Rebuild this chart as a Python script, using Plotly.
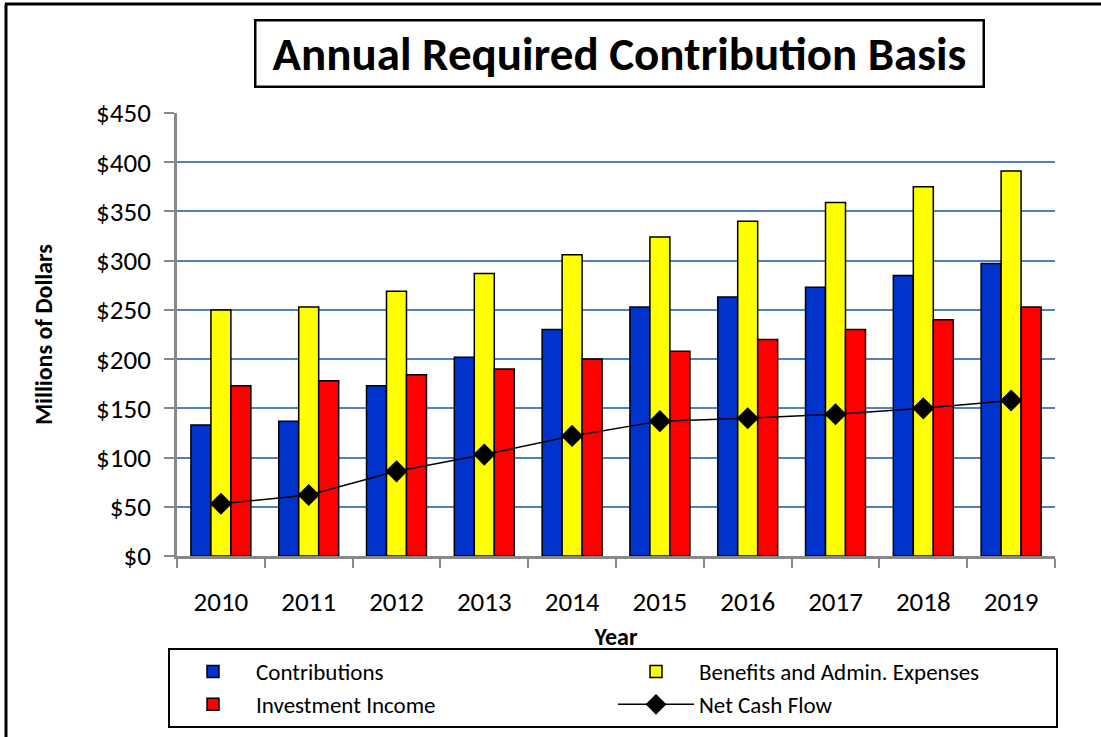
import plotly.graph_objects as go

years = ["2010", "2011", "2012", "2013", "2014", "2015", "2016", "2017", "2018", "2019"]
contributions = [133, 137, 173, 202, 230, 253, 263, 273, 285, 297]
benefits = [250, 253, 269, 287, 306, 324, 340, 359, 375, 391]
investment = [173, 178, 184, 190, 200, 208, 220, 230, 240, 253]
net_cash_flow = [53, 62, 86, 103, 122, 137, 140, 144, 150, 158]
y_ticks = [0, 50, 100, 150, 200, 250, 300, 350, 400, 450]
y_tick_labels = ["$" + str(v) for v in y_ticks]

FONT = "Carlito, Calibri, 'Liberation Sans Narrow', 'Open Sans', sans-serif"
W, H = 1101, 737
ML, MR, MT, MB = 177, 46, 113, 181
PW, PH = W - ML - MR, H - MT - MB

def px(x):
    return (x - ML) / PW

def py(y):
    return (H - MB - y) / PH

fig = go.Figure()
edge = dict(color="black", width=1.5)
fig.add_trace(go.Bar(x=years, y=contributions, name="Contributions",
                     marker=dict(color="#0033CC", line=edge)))
fig.add_trace(go.Bar(x=years, y=benefits, name="Benefits and Admin. Expenses",
                     marker=dict(color="#FFFF00", line=edge)))
fig.add_trace(go.Bar(x=years, y=investment, name="Investment Income",
                     marker=dict(color="#FF0000", line=edge)))
fig.add_trace(go.Scatter(x=years, y=net_cash_flow, name="Net Cash Flow", mode="lines+markers",
                         line=dict(color="black", width=1.5),
                         marker=dict(symbol="diamond", size=17, color="black")))

fig.update_layout(
    width=W, height=H,
    margin=dict(l=ML, r=MR, t=MT, b=MB, autoexpand=False),
    paper_bgcolor="white", plot_bgcolor="white",
    font=dict(family=FONT, size=25, color="black"),
    barmode="group", bargap=0.317, bargroupgap=0,
    showlegend=True,
    legend=dict(orientation="h", x=px(168), y=py(728), xanchor="left", yanchor="bottom",
                entrywidth=352, entrywidthmode="pixels",
                bordercolor="black", borderwidth=2, bgcolor="white",
                font=dict(family=FONT, size=23), traceorder="normal",
                tracegroupgap=0, itemwidth=76),
    xaxis=dict(type="category", range=[-0.5, len(years) - 0.5], autorange=False,
               showgrid=False, showline=True, linecolor="#888888", linewidth=2.5,
               ticks="outside", tickson="boundaries", ticklen=9, tickcolor="#888888", tickwidth=2,
               tickfont=dict(size=27), ticklabelstandoff=20,
               title=dict(text="<b>Year</b>", font=dict(size=24), standoff=12)),
    yaxis=dict(range=[0, 450], tickvals=y_ticks, ticktext=y_tick_labels,
               showgrid=True, gridcolor="#4F81BD", gridwidth=1.6,
               showline=True, linecolor="#888888", linewidth=2.5,
               ticks="outside", ticklen=10, tickcolor="#888888", tickwidth=2,
               tickfont=dict(size=27), ticklabelstandoff=8, zeroline=False,
               title=dict(text="<b>Millions of Dollars</b>", font=dict(size=24), standoff=37)),
    annotations=[dict(text="<b>Annual Required Contribution Basis</b>", xref="paper", yref="paper",
                      x=px(619), y=py(54), xanchor="center", yanchor="middle", showarrow=False,
                      font=dict(family=FONT, size=47, color="black"),
                      width=722, height=60, borderpad=2,
                      bordercolor="black", borderwidth=2.5, bgcolor="white")],
    shapes=[
        dict(type="line", xref="paper", yref="paper", x0=px(5), x1=px(W), y0=py(4), y1=py(4),
             line=dict(color="black", width=3)),
        dict(type="line", xref="paper", yref="paper", x0=px(6), x1=px(6), y0=py(4), y1=py(H),
             line=dict(color="black", width=3)),
    ],
)

fig.write_html("out.html")
